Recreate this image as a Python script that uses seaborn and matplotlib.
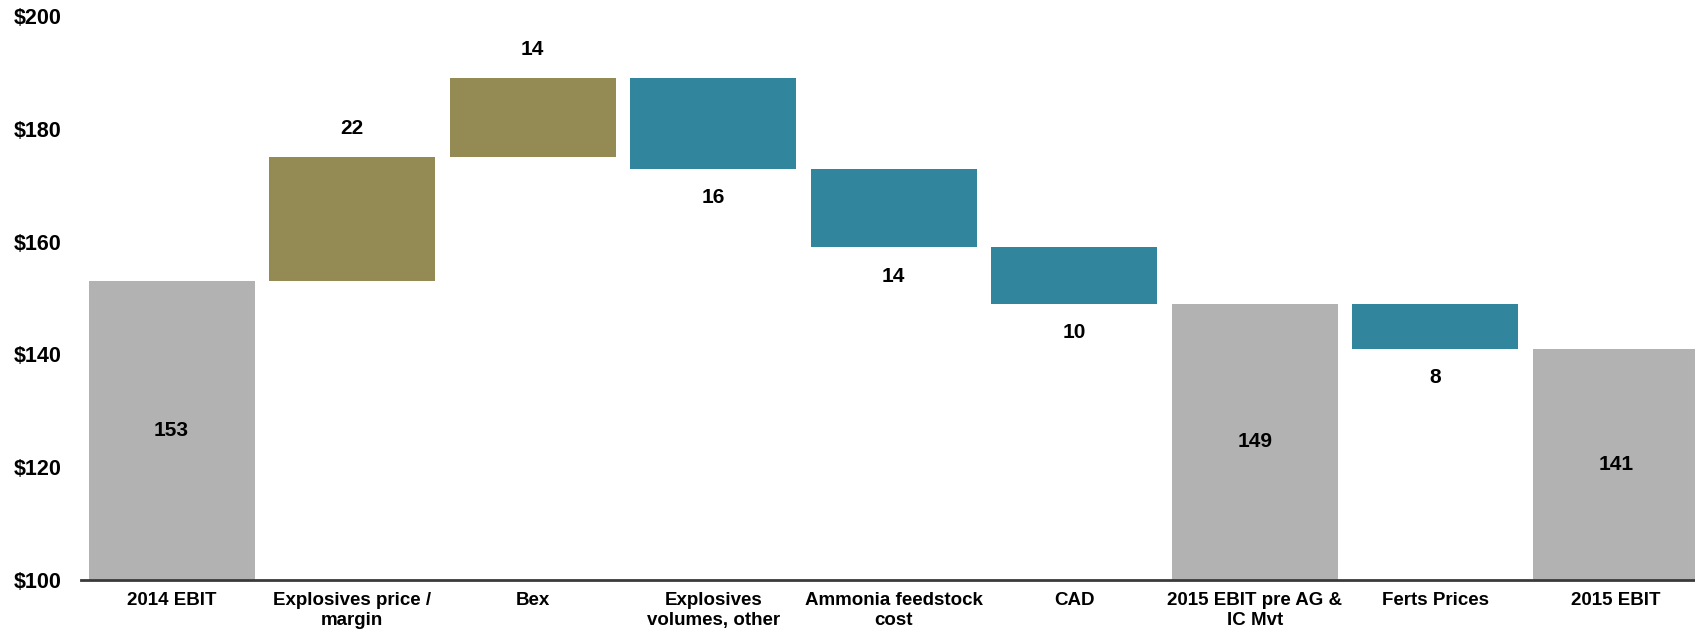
import numpy as np
import pandas as pd
import matplotlib
matplotlib.use("Agg")
import matplotlib.pyplot as plt
import seaborn as sns

# Waterfall data (EBIT bridge 2014 -> 2015)
categories = ["2014 EBIT", "Explosives price /\nmargin", "Bex", "Explosives\nvolumes, other",
              "Ammonia feedstock\ncost", "CAD", "2015 EBIT pre AG &\nIC Mvt", "Ferts Prices", "2015 EBIT"]
values = [153, 22, 14, -16, -14, -10, 149, -8, 141]
kinds = ["total", "up", "up", "down", "down", "down", "total", "down", "total"]
y_ticks = [100, 120, 140, 160, 180, 200]
floor = 100

colors = {"total": "#B2B2B2", "up": "#948A54", "down": "#31859C"}

# Work out where each floating bar starts
bottoms, heights = [], []
running = 0
for v, k in zip(values, kinds):
    if k == "total":
        running = v
        bottoms.append(floor)
        heights.append(v - floor)
    else:
        bottoms.append(running)
        heights.append(v)
        running += v

df = pd.DataFrame({"cat": categories, "kind": kinds, "bottom": bottoms,
                   "height": heights, "value": values})

sns.set_style("white")
plt.rcParams["font.family"] = ["Liberation Sans", "DejaVu Sans"]
plt.rcParams["text.color"] = "black"
plt.rcParams["xtick.color"] = "black"
plt.rcParams["ytick.color"] = "black"

fig, ax = plt.subplots(figsize=(16.95, 6.33), dpi=100)
fig.subplots_adjust(left=0.048, right=1.0065, bottom=0.084, top=0.974)

for kind in ["total", "up", "down"]:
    sub = df[df["kind"] == kind]
    sns.barplot(data=sub, x="cat", y="height", order=categories, color=colors[kind],
                bottom=sub["bottom"].values, width=0.92, errorbar=None,
                saturation=1, linewidth=0, ax=ax)
    cont = ax.containers[-1]
    labels = [f"{abs(v):g}" for v in sub["value"]]
    if kind == "total":
        ax.bar_label(cont, labels=labels, label_type="center",
                     fontsize=15, fontweight="bold", color="black")
    else:
        ax.bar_label(cont, labels=labels, label_type="edge", padding=14,
                     fontsize=15, fontweight="bold", color="black")

ax.set_ylim(100, 200)
ax.set_xlim(-0.5, len(categories) - 0.5)
ax.set_yticks(y_ticks)
ax.set_yticklabels([f"${t}" for t in y_ticks], fontsize=15.5, fontweight="bold")
ax.tick_params(axis="y", length=0, pad=14)

ax.set_xticks(np.arange(len(categories)))
ax.set_xticklabels(categories, fontsize=13.5, fontweight="bold",
                   family=["Liberation Sans Narrow", "Liberation Sans", "DejaVu Sans"],
                   linespacing=1.2)
ax.set_xticks(np.arange(-0.5, len(categories)), minor=True)
ax.tick_params(axis="x", which="major", length=0, pad=9)
ax.tick_params(axis="x", which="minor", length=6, width=1, color="#333333", direction="out")

ax.set_xlabel("")
ax.set_ylabel("")
for side in ["top", "right", "left"]:
    ax.spines[side].set_visible(False)
ax.spines["bottom"].set_color("#3a3a3a")
ax.spines["bottom"].set_linewidth(2)

fig.savefig("out.png", dpi=100)
